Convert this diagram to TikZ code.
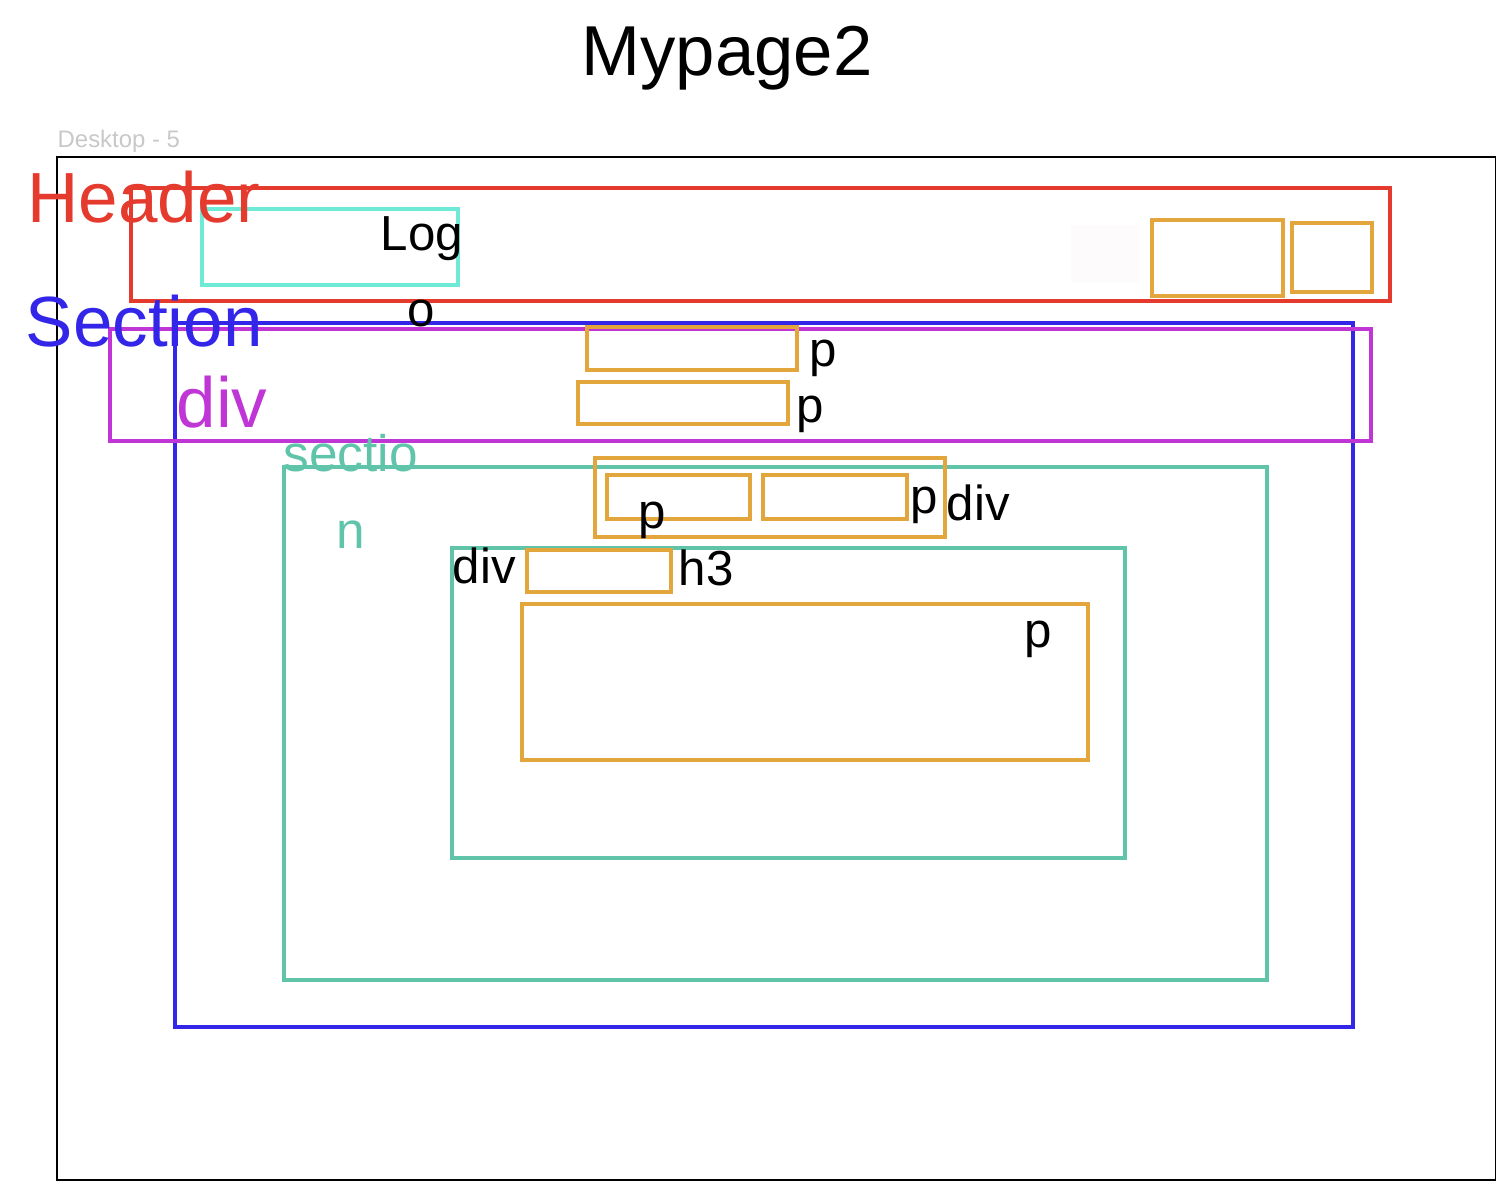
\documentclass[tikz,border=0pt]{standalone}
\usepackage{fontspec}
\setmainfont{Liberation Sans}
\usepackage{tikz}
\definecolor{hdred}{RGB}{229,58,46}
\definecolor{logocyan}{RGB}{110,234,214}
\definecolor{secblue}{RGB}{52,38,232}
\definecolor{divpurple}{RGB}{192,53,214}
\definecolor{subgreen}{RGB}{96,196,170}
\definecolor{elorange}{RGB}{227,166,61}
\definecolor{faintpink}{RGB}{253,251,252}
\definecolor{framegray}{RGB}{200,200,200}

\begin{document}
\begin{tikzpicture}[x=0.01cm, y=-0.01cm,
        box/.style={line width=1.4pt},
        lbl/.style={anchor=base west, inner sep=0pt},
        big/.style={lbl, font=\fontsize{20.2}{24}\selectfont},
        small/.style={lbl, font=\fontsize{14}{17}\selectfont}]
        \useasboundingbox (0,0) rectangle (1510,1194);
        % Frame
        \node[anchor=base, inner sep=0pt, font=\fontsize{20.1}{24}\selectfont] (title) at (727,76) {Mypage2};
        \node[lbl, text=framegray, font=\fontsize{6.8}{8}\selectfont] (frame) at (57,148) {Desktop - 5};
        \draw[line width=0.3pt] (57,157) rectangle (1495,1180);
        % Header
        \draw[box, hdred] (131,188) rectangle (1390,301);
        \draw[box, logocyan] (202,209) rectangle (458,285);
        \fill[faintpink] (1071,225) rectangle (1139,283);
        \draw[box, elorange] (1152,220) rectangle (1283,296);
        \draw[box, elorange] (1292,223) rectangle (1372,292);
        % Section
        \draw[box, secblue] (175,323) rectangle (1353,1027);
        \draw[box, divpurple] (110,329) rectangle (1371,441);
        \draw[box, elorange] (587,327) rectangle (797,370);
        \draw[box, elorange] (578,382) rectangle (788,424);
        % inner section
        \draw[box, subgreen] (284,467) rectangle (1267,980);
        \draw[box, elorange] (595,458) rectangle (945,537);
        \draw[box, elorange] (607,475) rectangle (750,519);
        \draw[box, elorange] (763,475) rectangle (907,519);
        \draw[box, subgreen] (452,548) rectangle (1125,858);
        \draw[box, elorange] (527,550) rectangle (671,592);
        \draw[box, elorange] (522,604) rectangle (1088,760);
        % Labels
        \node[big, text=hdred] (header) at (27,222) {Header};
        \node[small] (logo) at (380,250) {Log};
        \node[small] (logob) at (407,326) {o};
        \node[big, text=secblue] (section) at (25,346) {Section};
        \node[big, text=divpurple] (div) at (176,427) {div};
        \node[small] (pa) at (809,366) {p};
        \node[small] (pb) at (796,422) {p};
        \node[lbl, text=subgreen, font=\fontsize{14.6}{18}\selectfont] (sub) at (283,471) {sectio};
        \node[lbl, text=subgreen, font=\fontsize{14.6}{18}\selectfont] (subb) at (336,548) {n};
        \node[small] (pc) at (638,528) {p};
        \node[small] (pd) at (910,513) {p};
        \node[small] (divb) at (946,520) {div};
        \node[small] (divc) at (452,583) {div};
        \node[small] (hd) at (678,585) {h3};
        \node[small] (pe) at (1024,647) {p};
\end{tikzpicture}
\end{document}
